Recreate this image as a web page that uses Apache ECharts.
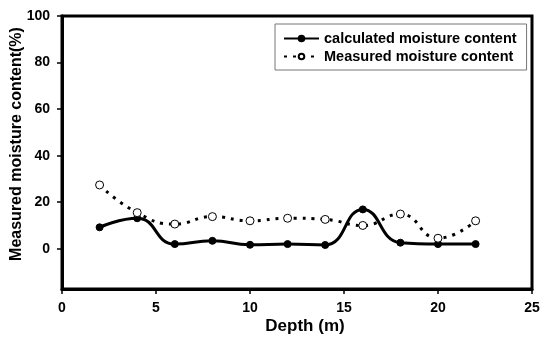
<!DOCTYPE html>
<html>
<head>
<meta charset="utf-8">
<script src="https://cdn.jsdelivr.net/npm/echarts@6/dist/echarts.min.js"></script>
<style>html,body{margin:0;padding:0;background:#fff;}#c{width:542px;height:338px;}</style>
</head>
<body>
<div id="c"></div>
<script>
var depth = [2, 4, 6, 8, 10, 12, 14, 16, 18, 20, 22];
var calculated = [9.2, 13.1, 2.0, 3.4, 1.7, 2.0, 1.6, 16.9, 2.6, 2.0, 2.0];
var measured = [27.4, 15.5, 10.6, 13.8, 12.0, 13.1, 12.6, 10.0, 14.9, 4.5, 12.0];
var yTicks = [0, 20, 40, 60, 80, 100];
var xTicks = [0, 5, 10, 15, 20, 25];

function pairs(xs, ys) { return xs.map(function (x, i) { return [x, ys[i]]; }); }

var chart = echarts.init(document.getElementById('c'), null, {renderer: 'canvas'});
var font = 'Liberation Sans, Arial, sans-serif';
chart.setOption({
  animation: false,
  backgroundColor: '#fff',
  grid: {left: 62, right: 10, top: 16, bottom: 49, containLabel: false, outerBoundsMode: 'none',
         show: true, borderColor: '#000', borderWidth: 3, backgroundColor: 'transparent'},
  legend: {
    left: 275, top: 24, orient: 'vertical',
    borderColor: '#777', borderWidth: 1, padding: [7, 10, 6, 8],
    itemWidth: 35, itemHeight: 7, itemGap: 3,
    textStyle: {fontFamily: font, fontWeight: 'bold', fontSize: 14.5, color: '#000'},
    data: ['calculated moisture content', 'Measured moisture content']
  },
  xAxis: {
    type: 'value', min: 0, max: 25, interval: 5,
    name: 'Depth (m)', nameLocation: 'middle', nameGap: 29, nameMoveOverlap: false,
    nameTextStyle: {fontFamily: font, fontWeight: 'bold', fontSize: 17, color: '#000', padding: [0, 0, 0, 16]},
    axisLine: {show: true, onZero: false, lineStyle: {color: '#000', width: 3}},
    axisTick: {show: true, inside: false, length: 5, lineStyle: {color: '#000', width: 1.5}, customValues: xTicks},
    axisLabel: {fontFamily: font, fontWeight: 'bold', fontSize: 14, color: '#000', margin: 12, customValues: xTicks},
    splitLine: {show: false}
  },
  yAxis: {
    type: 'value', min: -17.3, max: 100,
    name: 'Measured moisture content(%)', nameLocation: 'middle', nameGap: 37, nameRotate: 90, nameMoveOverlap: false,
    nameTextStyle: {fontFamily: font, fontWeight: 'bold', fontSize: 16, color: '#000', padding: [0, 0, 0, 17]},
    axisLine: {show: true, onZero: false, lineStyle: {color: '#000', width: 3}},
    axisTick: {show: true, inside: false, length: 5, lineStyle: {color: '#000', width: 1.5}, customValues: yTicks},
    axisLabel: {fontFamily: font, fontWeight: 'bold', fontSize: 14, color: '#000', margin: 12, customValues: yTicks},
    splitLine: {show: false}
  },
  series: [
    {
      name: 'calculated moisture content', type: 'line', smooth: 0.5,
      data: pairs(depth, calculated),
      symbol: 'circle', symbolSize: 7,
      lineStyle: {color: '#000', width: 3},
      itemStyle: {color: '#000', borderColor: '#000', borderWidth: 1}
    },
    {
      name: 'Measured moisture content', type: 'line', smooth: 0.5,
      data: pairs(depth, measured),
      symbol: 'circle', symbolSize: 8,
      lineStyle: {color: '#000', width: 3, type: [3, 6]},
      itemStyle: {color: '#fff', borderColor: '#000', borderWidth: 1}
    }
  ]
});
</script>
</body>
</html>
